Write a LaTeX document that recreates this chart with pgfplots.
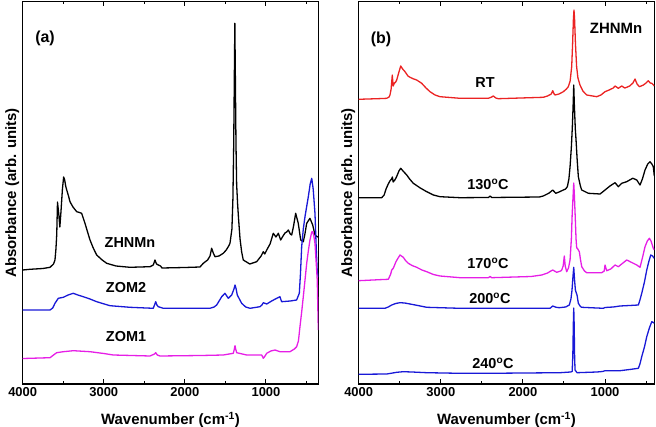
\documentclass[border=0pt]{standalone}
\usepackage{pgfplots}
\pgfplotsset{compat=1.18}
\usepackage{fontspec}
\setmainfont{Liberation Sans}
\definecolor{cblue}{RGB}{25,25,215}
\definecolor{cmag}{RGB}{230,30,230}
\definecolor{cred}{RGB}{235,35,35}
\pgfplotsset{
  spec/.style={
    scale only axis, width=295.6bp, height=382.3bp,
    x dir=reverse, xmax=4000, ymin=0, ymax=382.3,
    xtick={1000,2000,3000,4000}, minor xtick={500,1500,2500,3500},
    ytick=\empty,
    tick align=inside,
    major tick length=4.5bp, minor tick length=2.7bp,
    axis line style={line width=1.1bp},
    every tick/.style={black, line width=1bp},
    /pgf/number format/assume math mode=true,
    /pgf/number format/1000 sep={},
    tick label style={font=\bfseries\fontsize{13}{15}\selectfont},
    label style={font=\bfseries\fontsize{15}{17}\selectfont},
    xlabel={Wavenumber (cm\textsuperscript{-1})},
    xlabel style={yshift=-9bp},
    ylabel={Absorbance (arb. units)},
    every axis plot/.append style={line width=1.3bp, mark=none, line join=round},
  }
}
\begin{document}
\begin{tikzpicture}
\begin{axis}[spec, xmin=355, at={(22.7bp,43bp)}, anchor=south west]
\addplot[black] coordinates {
(4000,114) (3910,114.7) (3750,115.5) (3663,116.7) (3620,120) (3602,124) (3590,135) (3580,150) (3571,182) (3555,170) (3542,157) (3530,170) (3510,195) (3495,207) (3482,204) (3470,198) (3457,194) (3435,188) (3417,182.3) (3380,177) (3334,172.3) (3300,171.5) (3273,170.7) (3232,160.7) (3200,152) (3170,144) (3130,136) (3088,129) (3020,124) (2964,120.7) (2850,118) (2677,116.7) (2430,117.3) (2390,119) (2369,124) (2350,120) (2328,119) (2300,118) (2282,116) (2000,116.5) (1814,117) (1773,120.7) (1720,124) (1690,128) (1670,135.7) (1650,131) (1629,127.3) (1580,128) (1527,130.7) (1490,134) (1460,138) (1444,140.7) (1420,155) (1408,185) (1398,240) (1390,310) (1384,360.7) (1378,310) (1370,240) (1362,200) (1350,180) (1338,165) (1320,145) (1300,132) (1280,124) (1200,120) (1115,122.3) (1060,128) (1033,132.3) (1015,130) (991,134) (950,140) (910,150.7) (877,147) (848,150.7) (819,144) (790,148) (766,151) (745,152) (725,154) (700,150) (683,149) (660,158) (634,170.7) (602,160.7) (572,144) (540,142.3) (520,150) (498,160.7) (458,165.7) (424,159) (396,149) (368,147.3) (355,147)
};
\addplot[cblue] coordinates {
(4000,74) (3663,74) (3630,76) (3602,80.7) (3561,85.7) (3499,86.7) (3440,89) (3376,90.7) (3320,89) (3253,87.3) (3170,85) (3088,82.3) (2924,78.3) (2677,76.7) (2390,75.7) (2370,80) (2360,82.3) (2345,79) (2328,77.3) (2266,75.7) (1691,75.7) (1640,77) (1608,79) (1546,87.3) (1506,90.7) (1465,85.7) (1423,89) (1395,95) (1382,99) (1368,95) (1354,89) (1300,80.7) (1250,77) (1197,75.7) (1074,77.3) (1050,79) (1033,81.3) (991,80) (930,83) (868,85.7) (828,87.3) (807,82.3) (700,83) (622,84) (589,90.7) (575,110) (560,137.3) (540,155) (519,167.3) (478,187.3) (455,200) (436,205.7) (418,195) (396,170.7) (380,135) (368,112) (355,107)
};
\addplot[cmag] coordinates {
(4000,25.5) (3910,25.7) (3663,26.3) (3620,29) (3581,31.3) (3499,32.3) (3376,33.3) (3170,32.3) (3000,30.5) (2883,29) (2430,28) (2375,30) (2360,31.3) (2340,29) (2307,28) (1800,28.5) (1527,29) (1403,30.7) (1390,35) (1382,38.3) (1374,35) (1361,31.3) (1238,29) (1053,29) (1040,27) (1033,25.7) (1020,27) (991,30.7) (940,33) (889,34) (828,32.3) (704,32.3) (650,35) (622,37.3) (600,43) (581,57.3) (560,72) (540,87.3) (520,103) (498,120.7) (478,133) (458,144) (436,152) (424,152.3) (410,148) (396,140.7) (380,120) (368,104) (355,54)
};
\node[font=\bfseries\fontsize{16}{18}\selectfont] at (axis cs:3725,346) {(a)};
\node[font=\bfseries\fontsize{14.5}{16}\selectfont] at (axis cs:2677,141) {ZHNMn};
\node[font=\bfseries\fontsize{14.5}{16}\selectfont] at (axis cs:2726,96) {ZOM2};
\node[font=\bfseries\fontsize{14.5}{16}\selectfont] at (axis cs:2726,47) {ZOM1};
\end{axis}
\begin{axis}[spec, xmin=400, at={(358.7bp,43bp)}, anchor=south west]
\addplot[cred] coordinates {
(4000,284.7) (3700,285.5) (3659,285.7) (3630,287) (3619,289) (3605,295) (3591,309) (3580,298) (3566,300.7) (3550,302) (3537,304) (3510,312) (3488,318) (3465,315) (3436,312.3) (3400,308) (3375,306.7) (3330,305) (3294,304) (3233,300.7) (3180,296) (3132,292.3) (3070,289) (3010,287.3) (2766,285.7) (2421,285.7) (2380,287) (2361,288) (2330,286) (2300,285.3) (1752,286.7) (1700,288) (1655,290) (1637,293.3) (1620,290) (1609,289) (1560,290) (1508,292.3) (1470,295) (1447,297.3) (1425,303) (1406,317.3) (1395,340) (1385,365) (1378,374) (1371,365) (1360,340) (1346,317.3) (1330,306) (1305,299) (1270,293) (1223,289) (1101,287.3) (1050,289) (1000,292.3) (950,294) (900,296) (878,298) (838,295.7) (797,298) (760,296) (736,296.7) (700,298) (660,301) (635,305) (610,300) (582,297.3) (560,298) (533,299) (500,301) (473,303.3) (450,301) (431,300.7) (410,299) (400,298)
};
\addplot[black] coordinates {
(4000,186.3) (3720,186.3) (3690,189) (3667,195) (3640,200) (3620,203) (3600,205) (3590,207) (3580,202) (3560,204) (3540,207) (3510,213) (3488,215.7) (3460,213) (3415,209) (3380,205) (3335,200.7) (3250,196) (3172,192.3) (3090,189) (3010,187.3) (2766,186.3) (2420,186.5) (2400,188) (2380,186.5) (1800,187) (1752,188) (1680,191) (1637,194) (1600,190.7) (1560,192) (1508,194) (1480,195) (1459,197.3) (1440,205) (1426,217.3) (1410,237) (1398,257.3) (1388,280) (1381,299) (1374,280) (1362,255) (1353,244) (1340,225) (1325,207.3) (1300,198) (1284,194) (1203,190.7) (1061,190) (1030,192) (1000,194) (940,198) (878,201.3) (838,197.3) (797,200.7) (736,202.3) (700,204) (663,205.7) (640,205) (614,204) (574,199) (545,205) (513,214) (480,220) (452,222.3) (430,220) (412,217.3) (400,208)
};
\addplot[cmag] coordinates {
(4000,103.3) (3700,104.5) (3639,104.7) (3610,110) (3598,114) (3579,115.7) (3546,122.3) (3520,126) (3497,129) (3457,126.7) (3430,123.5) (3396,120.7) (3350,118.5) (3294,116.7) (3230,114) (3172,112.3) (3090,109.5) (3010,108) (2766,106.3) (2420,106.3) (2400,107.5) (2380,106.3) (1900,107.5) (1771,109) (1700,111) (1660,113) (1637,114) (1588,111.7) (1540,113) (1527,114) (1510,118) (1496,128) (1485,118) (1467,112.3) (1445,116) (1426,124) (1410,145) (1400,170) (1388,190) (1381,201) (1374,190) (1362,165) (1353,145) (1345,136) (1337,135.7) (1325,134) (1313,132.3) (1300,125) (1284,117.3) (1250,113) (1223,111.3) (1040,111.3) (1010,113) (1000,119) (990,116) (979,113.3) (930,115) (878,119) (838,117.3) (797,120) (736,124) (710,123) (695,122.3) (655,120.7) (614,119) (574,116.7) (545,126) (513,137.3) (485,143) (460,145.7) (440,143) (412,135.7) (400,134)
};
\addplot[cblue] coordinates {
(4000,75.7) (3680,75.7) (3640,77) (3598,79) (3550,80.5) (3497,81.3) (3440,81) (3375,80) (3280,78.5) (3172,76.7) (2766,75.7) (1670,75.7) (1637,78) (1600,76.8) (1560,76.3) (1480,77) (1435,79) (1415,85) (1402,94) (1390,108) (1381,116.7) (1372,105) (1361,94) (1350,91) (1341,89) (1325,80.7) (1300,77.5) (1284,76.7) (1021,75.7) (1000,76.5) (900,77) (817,78) (700,78.5) (594,79) (575,84) (553,90.7) (520,102) (492,114) (465,123) (443,129) (420,128) (403,125.7)
};
\addplot[cblue] coordinates {
(4000,9.7) (3659,10) (3600,10.8) (3537,11.7) (3457,12.3) (3350,12) (3172,11.3) (2766,10.7) (2420,10.7) (1548,11.3) (1420,12) (1400,12.5) (1392,30) (1386,60) (1381,76) (1376,60) (1370,25) (1365,14) (1341,11.3) (1100,12) (1030,12.5) (1000,13.3) (817,13.3) (700,14.5) (594,15.7) (575,20) (553,27.3) (520,37) (492,47.3) (460,56) (431,62.3) (410,61.5) (400,60.7)
};
\node[font=\bfseries\fontsize{16}{18}\selectfont] at (axis cs:3728,345) {(b)};
\node[font=\bfseries\fontsize{15}{17}\selectfont] at (axis cs:866,356) {ZHNMn};
\node[font=\bfseries\fontsize{14.5}{16}\selectfont] at (axis cs:2462,301) {RT};
\node[font=\bfseries\fontsize{14.5}{16}\selectfont] at (axis cs:2425,200) {130\textsuperscript{o}C};
\node[font=\bfseries\fontsize{14.5}{16}\selectfont] at (axis cs:2425,121) {170\textsuperscript{o}C};
\node[font=\bfseries\fontsize{14.5}{16}\selectfont] at (axis cs:2401,86) {200\textsuperscript{o}C};
\node[font=\bfseries\fontsize{14.5}{16}\selectfont] at (axis cs:2364,21) {240\textsuperscript{o}C};
\end{axis}
\pgfresetboundingbox
\path[use as bounding box] (0,0) rectangle (656bp,427bp);
\end{tikzpicture}
\end{document}
